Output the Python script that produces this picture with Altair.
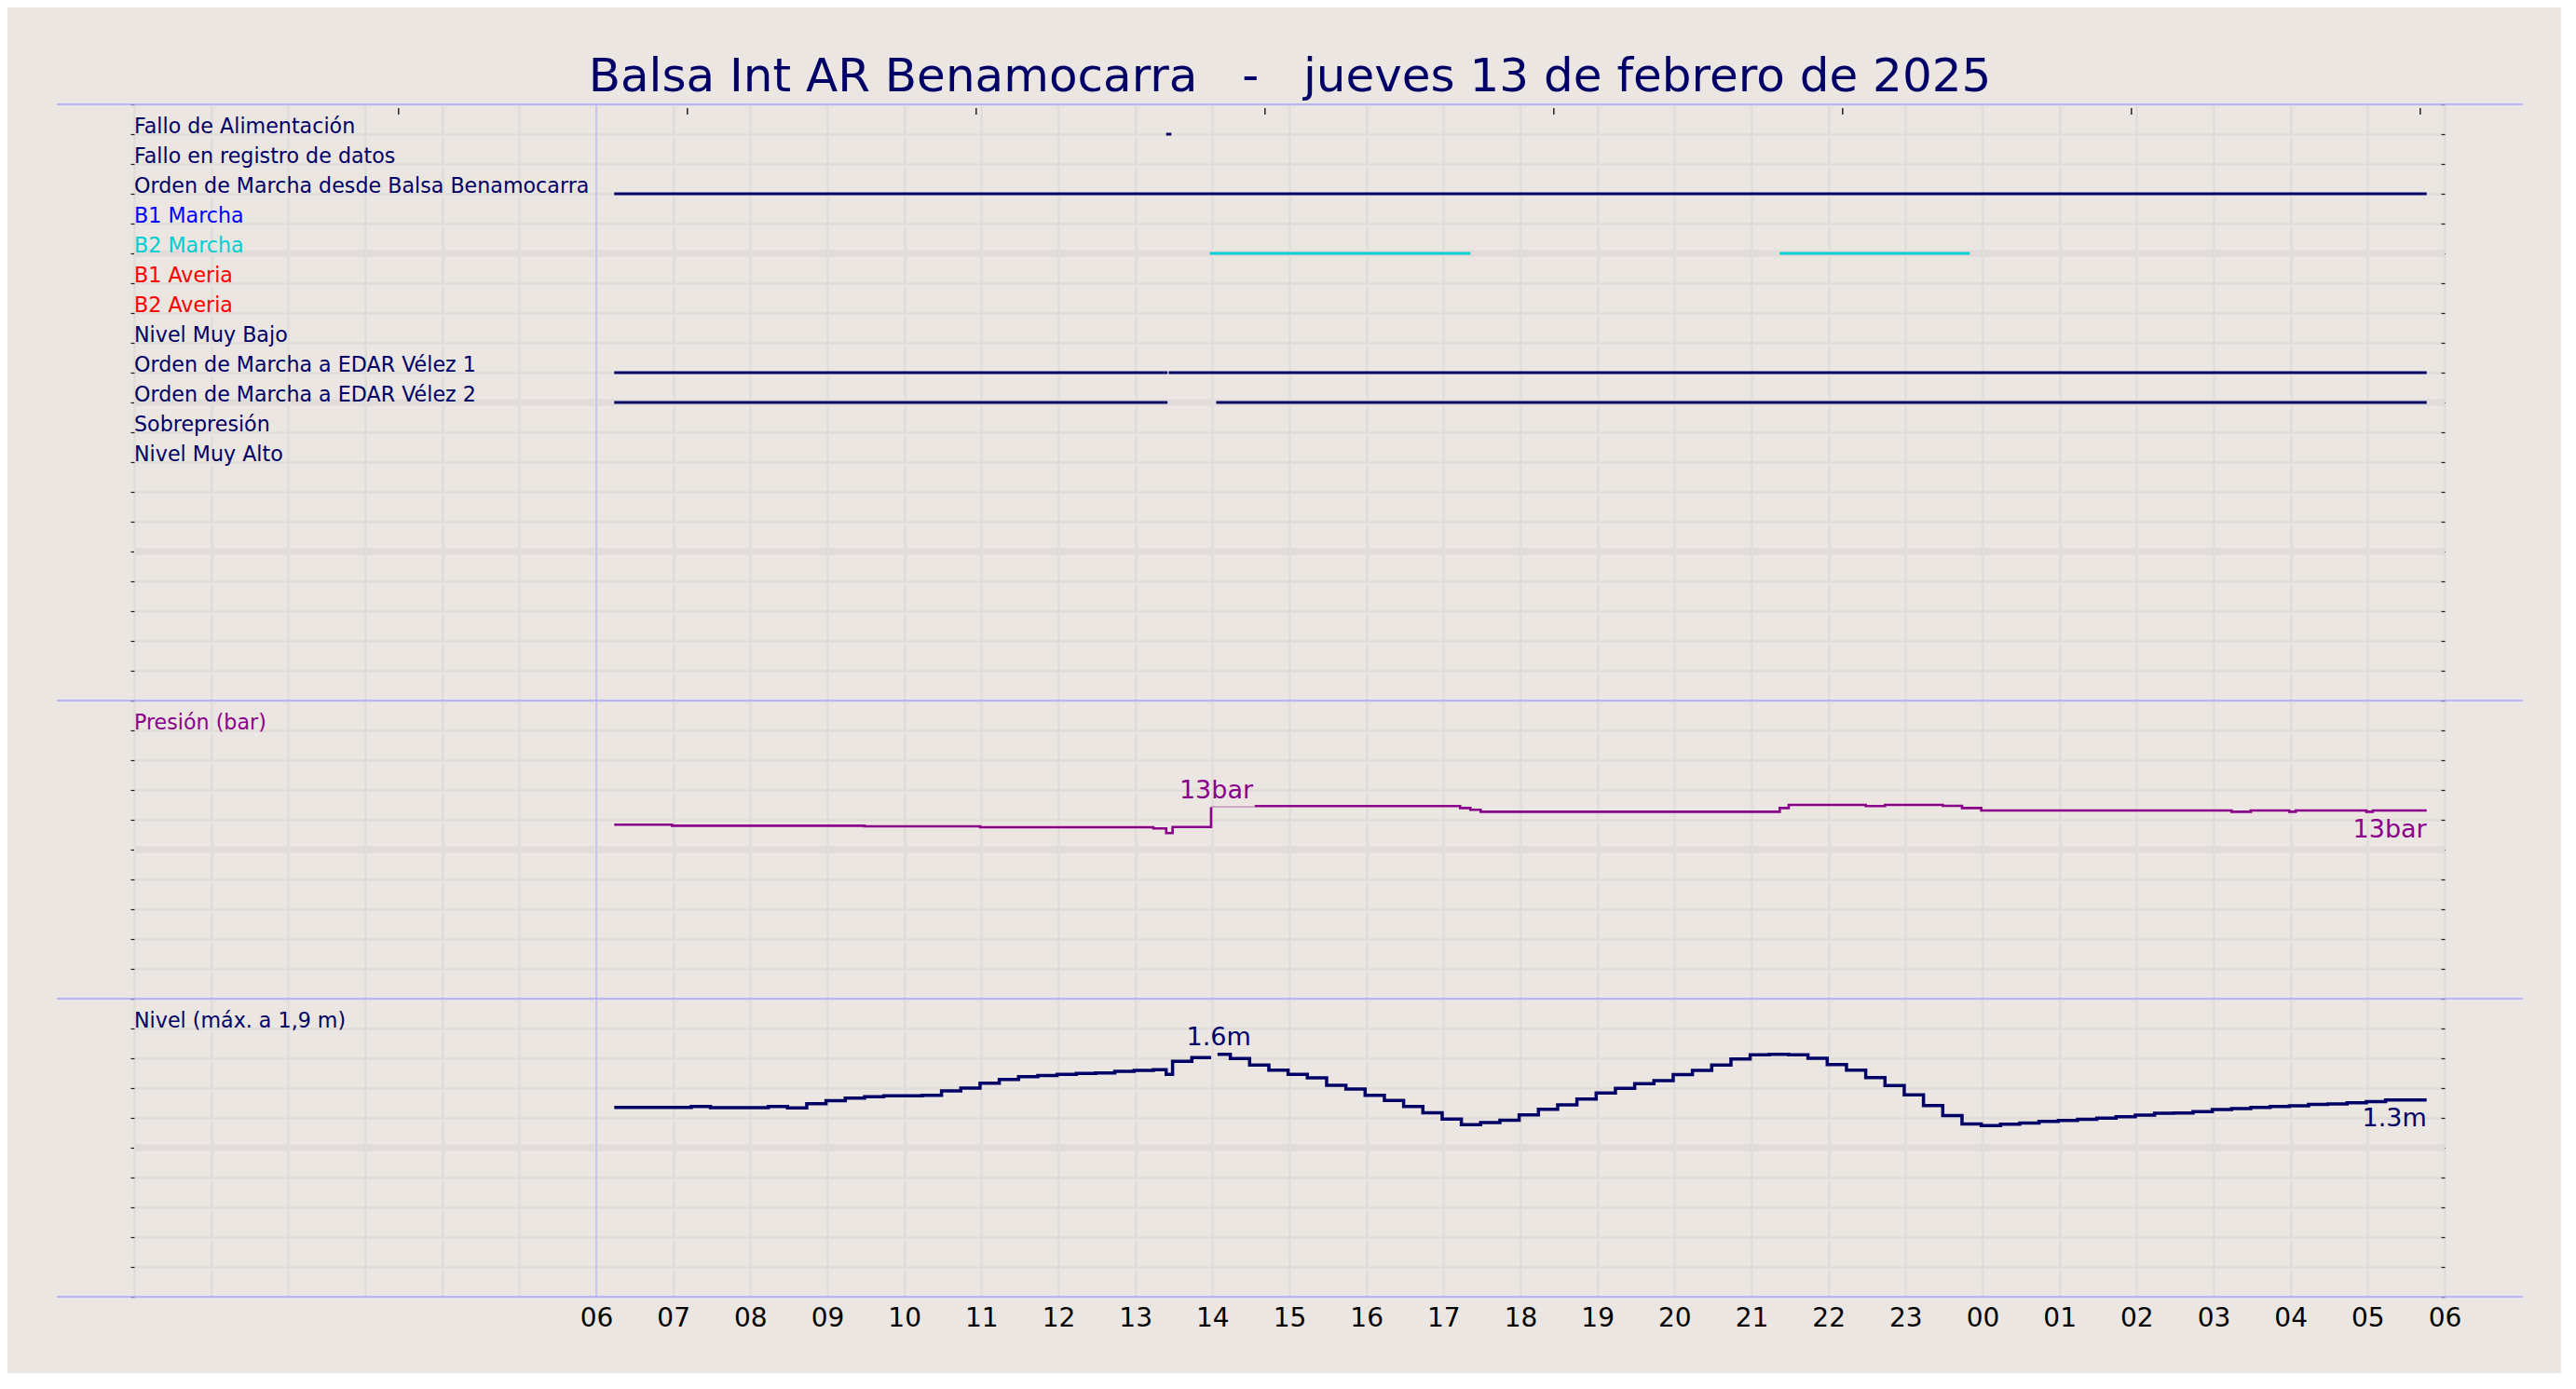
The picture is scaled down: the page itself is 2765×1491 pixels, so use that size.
import altair as alt
import pandas as pd

FONT = "DejaVu Sans"
NAVY = "#000066"
PURPLE = "#8b008b"
CYAN = "#00ced1"
BLUE = "#0000ff"
RED = "#ff0000"
BG = "#ebe6e1"
GRID = "#e1dcd9"
SEP = "#a8a8fa"
DAYLINE = "#c4c4f2"
TICK = "#222222"

TITLE = "Balsa Int AR Benamocarra\u00a0\u00a0\u00a0-\u00a0\u00a0\u00a0jueves 13 de febrero de 2025"
PRESSURE_LABEL = "Presión (bar)"
LEVEL_LABEL = "Nivel (máx. a 1,9 m)"

# ---- digital signals -------------------------------------------------------
signal_names = [
    "Fallo de Alimentación",
    "Fallo en registro de datos",
    "Orden de Marcha desde Balsa Benamocarra",
    "B1 Marcha",
    "B2 Marcha",
    "B1 Averia",
    "B2 Averia",
    "Nivel Muy Bajo",
    "Orden de Marcha a EDAR Vélez 1",
    "Orden de Marcha a EDAR Vélez 2",
    "Sobrepresión",
    "Nivel Muy Alto",
]
signal_colors = [NAVY, NAVY, NAVY, BLUE, CYAN, RED, RED, NAVY, NAVY, NAVY, NAVY, NAVY]

seg_signal = [
    "Fallo de Alimentación",
    "Orden de Marcha desde Balsa Benamocarra",
    "B2 Marcha",
    "B2 Marcha",
    "Orden de Marcha a EDAR Vélez 1",
    "Orden de Marcha a EDAR Vélez 1",
    "Orden de Marcha a EDAR Vélez 2",
    "Orden de Marcha a EDAR Vélez 2",
]
seg_start = ["13 13:24", "13 06:14", "13 13:58", "13 21:22", "13 06:14", "13 13:26", "13 06:14", "13 14:03"]
seg_end = ["13 13:28", "14 05:46", "13 17:21", "13 23:50", "13 13:25", "14 05:46", "13 13:25", "14 05:46"]

top_tick_times = ["13 03:26", "13 07:11", "13 10:56", "13 14:41", "13 18:26", "13 22:11", "14 01:56", "14 05:41"]
day_start = ["13 06:00"]

# ---- pressure (bar), step-after samples, None = break ---------------------
pressure_times = [
    "13 06:14", "13 06:59", "13 09:29", "13 10:59", "13 13:14", "13 13:24", "13 13:29", "13 13:59", "13 13:59",
    "13 14:33", "13 17:13", "13 17:21", "13 17:29", "13 21:22", "13 21:29", "13 22:29", "13 22:44",
    "13 23:29", "13 23:44", "13 23:59", "14 03:14", "14 03:29", "14 03:59", "14 04:04", "14 04:59",
    "14 05:04", "14 05:46",
]
pressure_values = [
    11.67, 11.60, 11.56, 11.50, 11.42, 11.11, 11.52, 12.85, None,
    12.92, 12.79, 12.67, 12.54, 12.79, 13.0, 12.92, 13.0,
    12.94, 12.79, 12.625, 12.54, 12.625, 12.54, 12.625, 12.54,
    12.625, 12.625,
]
pressure_gap_times = ["13 13:59", "13 14:33"]
pressure_gap_values = [12.87, 12.87]

# ---- level (m), step-after samples, None = break ---------------------------
level_times = [
    "13 06:14", "13 06:29", "13 06:44", "13 06:59",
    "13 07:14", "13 07:29", "13 07:44", "13 07:59",
    "13 08:14", "13 08:29", "13 08:44", "13 08:59",
    "13 09:14", "13 09:29", "13 09:44", "13 09:59",
    "13 10:14", "13 10:29", "13 10:44", "13 10:59",
    "13 11:14", "13 11:29", "13 11:44", "13 11:59",
    "13 12:14", "13 12:29", "13 12:44", "13 12:59",
    "13 13:14", "13 13:24", "13 13:29", "13 13:44", "13 13:59", "13 13:59",
    "13 14:04", "13 14:14", "13 14:29", "13 14:44", "13 14:59",
    "13 15:14", "13 15:29", "13 15:44", "13 15:59",
    "13 16:14", "13 16:29", "13 16:44", "13 16:59",
    "13 17:14", "13 17:29", "13 17:44", "13 17:59",
    "13 18:14", "13 18:29", "13 18:44", "13 18:59",
    "13 19:14", "13 19:29", "13 19:44", "13 19:59",
    "13 20:14", "13 20:29", "13 20:44", "13 20:59",
    "13 21:14", "13 21:29", "13 21:44", "13 21:59",
    "13 22:14", "13 22:29", "13 22:44", "13 22:59",
    "13 23:14", "13 23:29", "13 23:44", "13 23:59",
    "14 00:14", "14 00:29", "14 00:44", "14 00:59",
    "14 01:14", "14 01:29", "14 01:44", "14 01:59",
    "14 02:14", "14 02:29", "14 02:44", "14 02:59",
    "14 03:14", "14 03:29", "14 03:44", "14 03:59",
    "14 04:14", "14 04:29", "14 04:44", "14 04:59",
    "14 05:14", "14 05:29", "14 05:44", "14 05:46",
]
level_values = [
    1.271, 1.271, 1.271, 1.271,
    1.277, 1.269, 1.269, 1.269,
    1.277, 1.267, 1.296, 1.315,
    1.333, 1.342, 1.348, 1.348,
    1.352, 1.381, 1.400, 1.433,
    1.458, 1.477, 1.485, 1.492,
    1.498, 1.502, 1.512, 1.519,
    1.523, 1.492, 1.579, 1.604, 1.604, None,
    1.626, 1.598, 1.554, 1.521, 1.492,
    1.469, 1.419, 1.394, 1.352,
    1.317, 1.277, 1.235, 1.192,
    1.154, 1.169, 1.185, 1.221,
    1.258, 1.288, 1.327, 1.367,
    1.398, 1.429, 1.450, 1.490,
    1.519, 1.554, 1.596, 1.623,
    1.626, 1.623, 1.600, 1.558,
    1.521, 1.471, 1.417, 1.354,
    1.283, 1.215, 1.160, 1.148,
    1.158, 1.165, 1.177, 1.183,
    1.190, 1.198, 1.208, 1.219,
    1.231, 1.233, 1.242, 1.256,
    1.263, 1.271, 1.277, 1.281,
    1.290, 1.294, 1.302, 1.310,
    1.321, 1.321, 1.321, 1.321,
]

# value annotations (max label, last value label)
p_ann_times = ["13 14:03", "14 05:46"]
p_ann_values = [12.85, 12.625]
l_ann_times = ["13 14:05", "14 05:46"]
l_ann_values = [1.626, 1.321]


def hrs(s):
    d, hm = s.split()
    h, m = hm.split(":")
    return (int(d) - 13) * 24 + int(h) + int(m) / 60.0


def series_df(times, values):
    rows, seg = [], 0
    for t, v in zip(times, values):
        if v is None:
            seg += 1
            continue
        rows.append({"h": hrs(t), "v": v, "seg": seg})
    return pd.DataFrame(rows)


row_of = {n: i + 1 for i, n in enumerate(signal_names)}
color_of = dict(zip(signal_names, signal_colors))

sig_labels = pd.DataFrame({"name": signal_names,
                           "v": [row_of[n] for n in signal_names],
                           "color": signal_colors})
sig_segs = pd.DataFrame({"h": [hrs(s) for s in seg_start],
                         "h2": [hrs(e) for e in seg_end],
                         "v": [row_of[n] for n in seg_signal],
                         "color": [color_of[n] for n in seg_signal]})
top_ticks = pd.DataFrame({"h": [hrs(t) for t in top_tick_times]})
day_df = pd.DataFrame({"h": [hrs(t) for t in day_start]})
one = pd.DataFrame({"k": [0]})

p_df = series_df(pressure_times, pressure_values)
p_gap = series_df(pressure_gap_times, pressure_gap_values)
l_df = series_df(level_times, level_values)
p_ann = pd.DataFrame({"h": [hrs(t) for t in p_ann_times], "v": p_ann_values,
                      "text": [f"{round(v):.0f}bar" for v in p_ann_values]})
l_ann = pd.DataFrame({"h": [hrs(t) for t in l_ann_times], "v": l_ann_values,
                      "text": [f"{v:.1f}m" for v in l_ann_values]})

W = 2480
H_SIG, H_P, H_L = 640, 320, 320
LABEL_SIZE = 22.2
XSCALE = alt.Scale(domain=[0, 30], nice=False, zero=False)
HOUR_VALUES = list(range(0, 31))


def make_x(show_labels):
    ax = alt.Axis(values=HOUR_VALUES, grid=True, gridColor=GRID, gridWidth=2.5, gridOpacity=1,
                  domain=False, ticks=False, tickSize=0, labels=show_labels, title=None,
                  labelExpr="datum.value < 6 ? '' : ((datum.value % 24) < 10 ? '0' : '') + (datum.value % 24)",
                  labelFont=FONT, labelFontSize=28, labelColor="#000000", labelPadding=9,
                  labelFlush=False, labelOverlap=False)
    return alt.X("h:Q", scale=XSCALE, axis=ax)


def y_left(vals):
    return alt.Axis(values=vals, grid=True, gridColor=GRID, gridWidth=2.5, gridOpacity=1,
                    domain=False, labels=False, ticks=True, tickSize=4, tickColor=TICK,
                    tickWidth=1.2, title=None)


def y_right(vals):
    return alt.Axis(orient="right", values=vals, grid=False, domain=False, labels=False,
                    ticks=True, tickSize=4, tickColor=TICK, tickWidth=1.2, title=None, offset=-4)


def separator(y):
    return alt.Chart(one).mark_rule(color=SEP, strokeWidth=1.3).encode(
        x=alt.value(-83), x2=alt.value(W + 84), y=alt.value(y))


def heavy(vals, yscale, ticks):
    return alt.Chart(pd.DataFrame({"v": vals})).mark_rule(color=GRID, strokeWidth=7).encode(
        y=alt.Y("v:Q", scale=yscale, axis=y_right(ticks)))


def dayline(X):
    return alt.Chart(day_df).mark_rule(color=DAYLINE, strokeWidth=1.8).encode(x=X)


def panel_label(text, color):
    return alt.Chart(pd.DataFrame({"t": [text]})).mark_text(
        align="left", baseline="alphabetic", font=FONT, fontSize=LABEL_SIZE, color=color, dy=-1
    ).encode(x=alt.value(0), y=alt.value(32), text="t:N")


# ---- panel 1: signals -----------------------------------------------------
Xs = make_x(False)
ysig = alt.Scale(domain=[0, 20], reverse=True, nice=False, zero=False)
sig_vals = list(range(0, 21))
sig_panel = alt.layer(
    heavy([5, 10, 15], ysig, sig_vals),
    dayline(Xs),
    alt.Chart(sig_segs).mark_rule(strokeWidth=3, strokeCap="butt").encode(
        x=Xs, x2="h2:Q", y=alt.Y("v:Q", scale=ysig, axis=y_left(sig_vals)),
        color=alt.Color("color:N", scale=None)),
    alt.Chart(sig_labels).mark_text(align="left", baseline="alphabetic", font=FONT,
                                    fontSize=LABEL_SIZE, dy=-1).encode(
        x=alt.value(0), y=alt.Y("v:Q", scale=ysig, axis=None), text="name:N",
        color=alt.Color("color:N", scale=None)),
    alt.Chart(top_ticks).mark_rule(color=TICK, strokeWidth=1.5).encode(
        x=Xs, y=alt.value(4), y2=alt.value(11)),
    separator(0),
).resolve_axis(y="independent").properties(width=W, height=H_SIG)

# ---- panel 2: pressure ----------------------------------------------------
Xp = make_x(False)
yp = alt.Scale(domain=[0, 20], nice=False, zero=True)
p_vals = list(range(0, 21, 2))
p_panel = alt.layer(
    heavy([10], yp, p_vals),
    dayline(Xp),
    alt.Chart(p_gap).mark_line(color=PURPLE, strokeWidth=1, opacity=0.55).encode(
        x=Xp, y=alt.Y("v:Q", scale=yp, axis=None)),
    alt.Chart(p_df).mark_line(color=PURPLE, strokeWidth=2.6, interpolate="step-after").encode(
        x=Xp, y=alt.Y("v:Q", scale=yp, axis=y_left(p_vals)), detail="seg:N"),
    alt.Chart(p_ann.iloc[[0]]).mark_text(align="center", baseline="alphabetic", font=FONT,
                                         fontSize=27, color=PURPLE, dy=-9).encode(
        x=Xp, y=alt.Y("v:Q", scale=yp, axis=None), text="text:N"),
    alt.Chart(p_ann.iloc[[1]]).mark_text(align="right", baseline="alphabetic", font=FONT,
                                         fontSize=27, color=PURPLE, dy=29).encode(
        x=Xp, y=alt.Y("v:Q", scale=yp, axis=None), text="text:N"),
    panel_label(PRESSURE_LABEL, PURPLE),
    separator(0),
).resolve_axis(y="independent").properties(width=W, height=H_P)

# ---- panel 3: level -------------------------------------------------------
Xl = make_x(True)
yl = alt.Scale(domain=[0, 2], nice=False, zero=True)
l_vals = [round(0.2 * i, 1) for i in range(11)]
l_panel = alt.layer(
    heavy([1.0], yl, l_vals),
    dayline(Xl),
    alt.Chart(l_df).mark_line(color=NAVY, strokeWidth=3.5, interpolate="step-after").encode(
        x=Xl, y=alt.Y("v:Q", scale=yl, axis=y_left(l_vals)), detail="seg:N"),
    alt.Chart(l_ann.iloc[[0]]).mark_text(align="center", baseline="alphabetic", font=FONT,
                                         fontSize=27, color=NAVY, dy=-10).encode(
        x=Xl, y=alt.Y("v:Q", scale=yl, axis=None), text="text:N"),
    alt.Chart(l_ann.iloc[[1]]).mark_text(align="right", baseline="alphabetic", font=FONT,
                                         fontSize=27, color=NAVY, dy=28).encode(
        x=Xl, y=alt.Y("v:Q", scale=yl, axis=None), text="text:N"),
    panel_label(LEVEL_LABEL, NAVY),
    separator(0),
    separator(H_L),
).resolve_axis(y="independent").properties(width=W, height=H_L)

chart = alt.vconcat(sig_panel, p_panel, l_panel, spacing=0, bounds="flush").resolve_scale(
    x="independent", y="independent"
).properties(
    title=alt.TitleParams(TITLE, font=FONT, fontSize=50, fontWeight="normal", color=NAVY,
                          anchor="middle", offset=-37, baseline="alphabetic"),
    background=BG,
    padding={"left": 52, "top": 50, "right": 40, "bottom": 45},
).configure_view(stroke=None)

chart.save("out.html", embed_options={"renderer": "svg", "actions": False})
